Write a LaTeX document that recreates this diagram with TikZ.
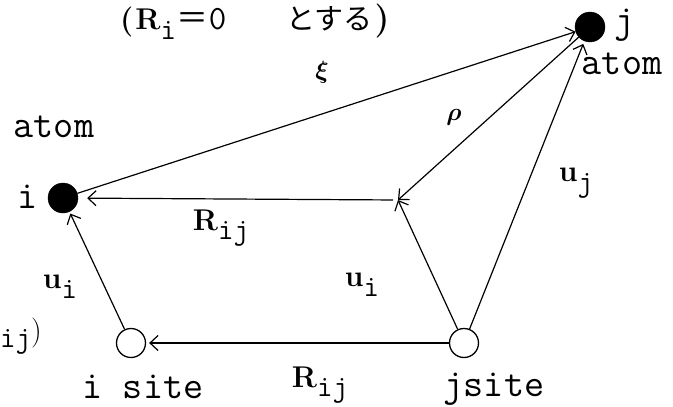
\documentclass[tikz,border=0pt]{standalone}
\usepackage{fontspec}
\usepackage{bm}
\newfontfamily\jpfont{Noto Sans CJK JP}
\usetikzlibrary{arrows.meta}
\tikzset{
  vec/.style={line width=1.2pt, -{Straight Barb[length=8pt,width=15pt,line width=1.2pt]}},
  atomdot/.style={circle, fill=black, draw=black, minimum size=30pt, inner sep=0pt},
  sitedot/.style={circle, draw=black, fill=white, line width=1.3pt, minimum size=29pt, inner sep=0pt},
  ttlab/.style={font=\fontsize{39}{39}\selectfont\ttfamily, inner sep=0pt},
  veclab/.style={font=\fontsize{30}{30}\selectfont, inner sep=0pt},
  greek/.style={font=\fontsize{34}{34}\selectfont, inner sep=0pt}
}
\newcommand{\vsub}[2]{\textbf{#1}\raisebox{-0.32em}{\ttfamily #2}}
\begin{document}
\begin{tikzpicture}[x=1pt,y=-1pt]
\useasboundingbox (0,0) rectangle (673,407);
% atoms and sites
\node[atomdot] (ai) at (63,198) {};
\node[atomdot] (aj) at (590,27) {};
\node[sitedot] (is) at (131,343) {};
\node[sitedot] (js) at (464,343) {};
\coordinate (P) at (398,200);
% connectors
\draw[vec] (ai) -- (aj);
\draw[vec] (aj) -- (P);
\draw[vec, shorten <=5pt, shorten >=9pt] (P) -- (ai);
\draw[vec, shorten >=2pt] (is) -- (ai);
\draw[vec, shorten >=3pt] (js) -- (is);
\draw[vec] (js) -- (P);
\draw[vec, shorten >=3pt] (js) -- (aj);
% labels
\node[inner sep=0pt, anchor=west, font=\fontsize{30}{30}\selectfont] (title) at (120,22)
  {\textbf{(}\hspace{2pt}\vsub{R}{i}\hspace{1pt}{\jpfont\fontsize{32}{32}\selectfont ＝}{\ttfamily\fontsize{34}{34}\selectfont 0}\hspace{60pt}{\jpfont\fontsize{29}{29}\selectfont とする}\hspace{2pt}{\fontsize{34}{34}\selectfont\textbf{)}}};
\node[greek] (xi) at (322,72) {$\bm{\xi}$};
\node[greek] (rho) at (454,117) {$\bm{\rho}$};
\node[ttlab] (jl) at (625,25) {j};
\node[ttlab] (atomr) at (622,64) {atom};
\node[ttlab] (atoml) at (54,127) {atom};
\node[ttlab] (il) at (28,197) {i};
\node[veclab] (Rup) at (221,228) {\vsub{R}{ij}};
\node[veclab] (uj) at (576,183) {\vsub{u}{j}};
\node[veclab] (uil) at (60,287) {\vsub{u}{i}};
\node[veclab] (uim) at (362,285) {\vsub{u}{i}};
\node[anchor=west, inner sep=0pt, font=\fontsize{30}{30}\selectfont] (cut) at (0,336) {\raisebox{-0.25em}{\ttfamily ij})};
\node[ttlab] (isl) at (143,387) {i site};
\node[veclab] (Rlow) at (320,385) {\vsub{R}{ij}};
\node[ttlab] (jsl) at (494,389) {jsite};
\end{tikzpicture}
\end{document}
